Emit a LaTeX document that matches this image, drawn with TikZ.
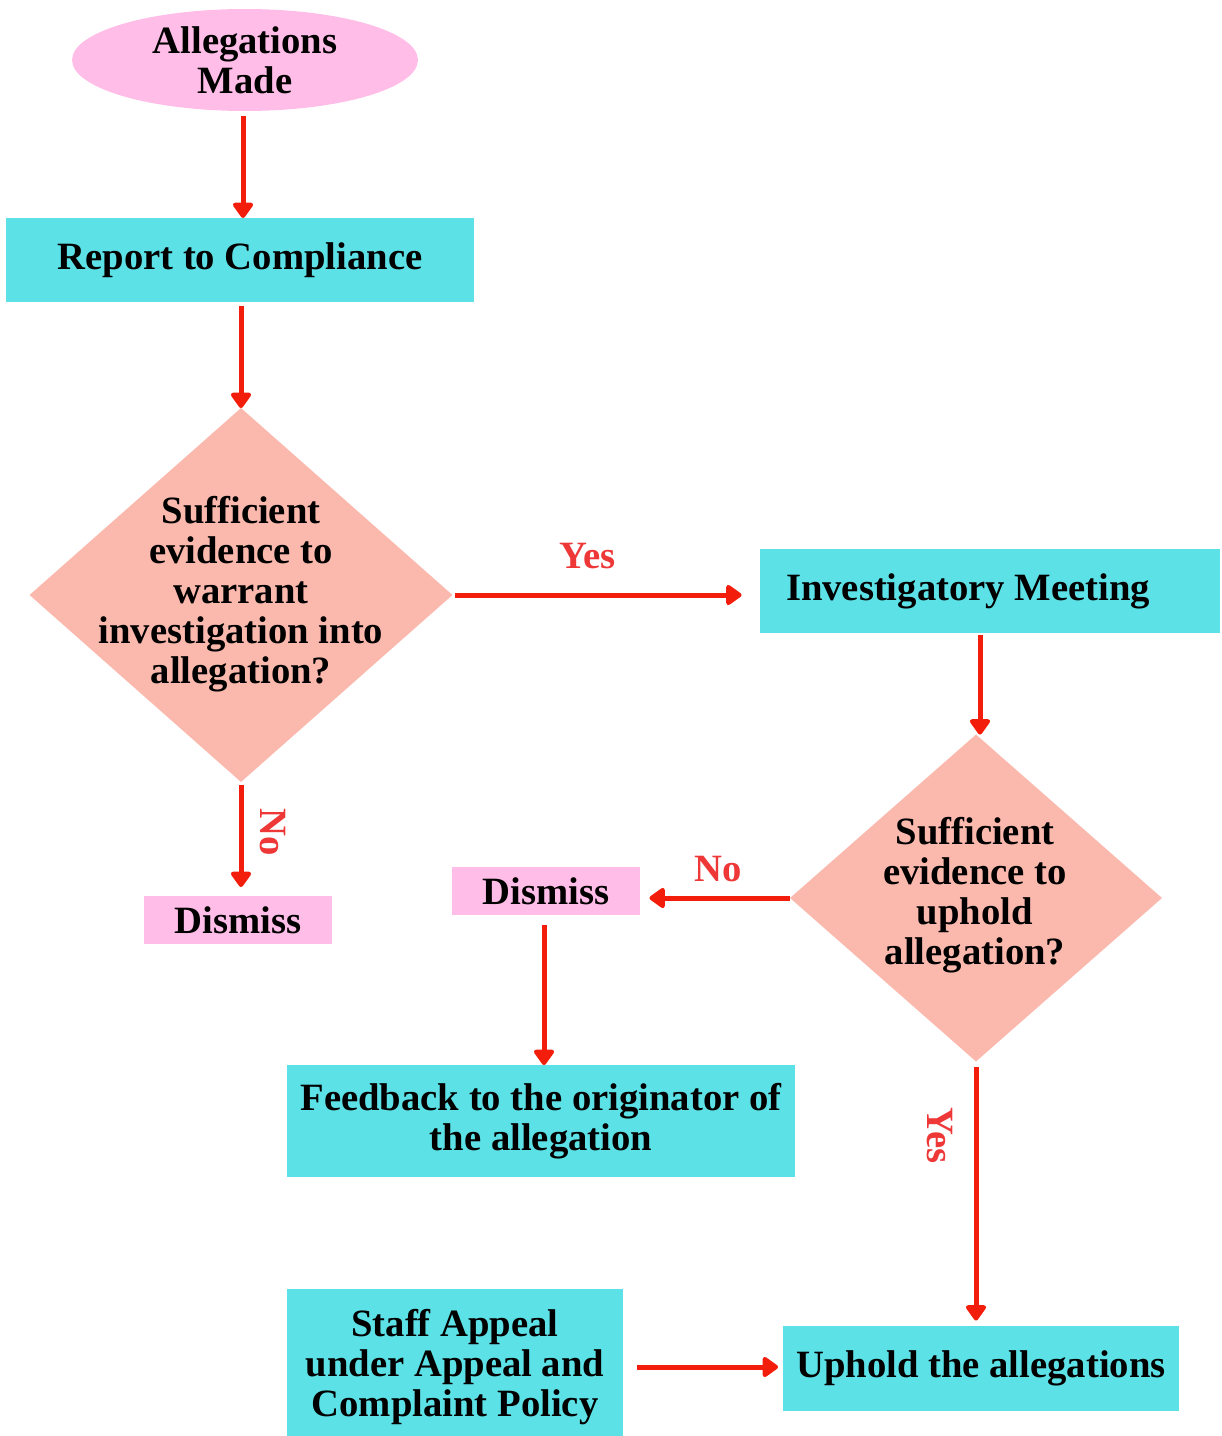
\documentclass[tikz,border=0pt]{standalone}
\usepackage{fontspec}
\setmainfont{Liberation Serif}
\usetikzlibrary{arrows.meta,shapes.geometric}
\definecolor{boxcyan}{HTML}{5CE1E6}
\definecolor{startpink}{HTML}{FFBDE8}
\definecolor{decisionsalmon}{HTML}{FBB9AE}
\definecolor{flowred}{HTML}{F21D0B}
\definecolor{labelred}{HTML}{EE3838}
\tikzset{
    every node/.style = {
        font=\bfseries\fontsize{22}{22.7}\selectfont,
        outer sep=0pt,
        },
    start/.style = {
        ellipse,
        fill = startpink,
        align=center,
        inner sep=0pt,
        minimum width=6.92cm,
        minimum height=2.04cm,
        },
    process/.style = {
        rectangle,
        fill = boxcyan,
        align=center,
        inner sep=0pt,
        },
    dismiss box/.style = {
        rectangle,
        fill = startpink,
        inner sep=0pt,
        minimum width=3.78cm,
        minimum height=0.96cm,
        },
    decision/.style = {
        diamond,
        fill = decisionsalmon,
        inner sep=0pt,
        },
    flow/.style = {
        draw=flowred,
        line width=0.1cm,
        -{Triangle[width=0.46cm,length=0.34cm,round]},
        },
    answer/.style = {
        text = labelred,
        font=\bfseries\fontsize{22}{22.7}\selectfont,
        },
}
\begin{document}
\begin{tikzpicture}[x=0.02cm,y=-0.02cm]
    \useasboundingbox (0,0) rectangle (1221,1436);

    \node[start] (made) at (245,60) {Allegations\\Made};
    \node[process, minimum width=9.38cm, minimum height=1.68cm] (report) at (240,260) {Report to Compliance};
    \node[decision, minimum width=8.46cm, minimum height=7.48cm] (check) at (241,595) {};
    \node[align=center] (check text) at (241,594) {Sufficient\\evidence to\\warrant\\investigation into\\allegation?};
    \node[dismiss box] (dismiss) at (238,920) {Dismiss};
    \node[process, minimum width=9.22cm, minimum height=1.68cm] (meeting) at (990,591) {Investigatory Meeting\hspace*{0.88cm}};
    \node[decision, minimum width=7.44cm, minimum height=6.54cm] (uphold check) at (976,898) {};
    \node[align=center] (uphold text) at (975,895) {Sufficient\\evidence to\\uphold\\allegation?};
    \node[dismiss box] (dismiss two) at (546,891) {Dismiss};
    \node[process, minimum width=10.16cm, minimum height=2.24cm] (feedback) at (541,1121) {Feedback to the originator of\\the allegation};
    \node[process, minimum width=7.92cm, minimum height=1.7cm] (uphold) at (981,1368) {Uphold the allegations};
    \node[process, minimum width=6.72cm, minimum height=3.12cm] (appeal) at (455,1367) {Staff Appeal\\under Appeal and\\Complaint Policy};

    \draw[flow, shorten <=0.1cm] (made.south -| 243,0) -- (report.north -| 243,0);
    \draw[flow, shorten <=0.08cm] (report.south -| check.north) -- (check.north);
    \draw[flow, shorten <=0.06cm, shorten >=0.36cm] (check.east) -- (check.east -| meeting.west)
        node[answer, pos=0.44, above=0.4cm] (yes one) {Yes};
    \draw[flow, shorten <=0.06cm, shorten >=0.18cm] (check.south) -- (dismiss.north -| check.south)
        node[answer, pos=0.44, xshift=0.64cm, rotate=-90] (no one) {No};
    \draw[flow, shorten <=0.04cm] (meeting.south -| 980,0) -- (uphold check.north -| 980,0);
    \draw[flow, shorten >=0.18cm] (uphold check.west) -- (uphold check.west -| dismiss two.east)
        node[answer, pos=0.48, above=0.2cm] (no two) {No};
    \draw[flow, shorten <=0.2cm] (dismiss two.south -| 544,0) -- (feedback.north -| 544,0);
    \draw[flow, shorten <=0.12cm, shorten >=0.1cm] (uphold check.south) -- (uphold check.south |- uphold.north)
        node[answer, pos=0.28, xshift=-0.72cm, rotate=-90] (yes two) {Yes};
    \draw[flow, shorten <=0.28cm, shorten >=0.1cm] (appeal.east |- 0,1367) -- (uphold.west |- 0,1367);
\end{tikzpicture}
\end{document}
